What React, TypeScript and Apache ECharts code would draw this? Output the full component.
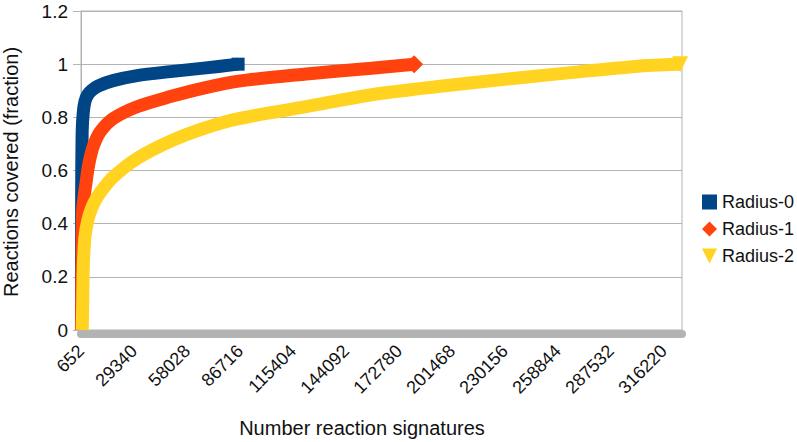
import React, { useEffect, useRef } from "react";
import * as echarts from "echarts";

const FONT = "'Liberation Sans', Arial, sans-serif";

const seriesNames = ["Radius-0", "Radius-1", "Radius-2"];
const seriesColors = ["#004586", "#ff420e", "#ffd320"];

const xTicks = [652, 29340, 58028, 86716, 115404, 144092, 172780, 201468, 230156, 258844, 287532, 316220];
const yTicks = [0, 0.2, 0.4, 0.6, 0.8, 1, 1.2];

const radius0X = [900, 1000, 1300, 1900, 2800, 4300, 6500, 10000, 18000, 31000, 49000, 67000, 85700];
const radius0Y = [0, 0.5, 0.75, 0.82, 0.86, 0.885, 0.902, 0.918, 0.938, 0.957, 0.972, 0.985, 1.0];

const radius1X = [900, 1100, 1500, 2300, 3300, 4300, 5500, 7500, 11000, 18000, 31000, 49000, 67000, 86000, 122500, 158000, 181000];
const radius1Y = [0, 0.2, 0.44, 0.5, 0.55, 0.6, 0.645, 0.695, 0.745, 0.795, 0.84, 0.878, 0.91, 0.936, 0.963, 0.985, 1.0];

const radius2X = [1300, 1500, 1900, 2800, 4400, 6500, 9000, 12500, 18000, 31000, 49000, 67000, 86000, 122500, 158000, 194000, 235700, 271300, 307400, 325000];
const radius2Y = [0, 0.07, 0.24, 0.35, 0.415, 0.46, 0.495, 0.53, 0.575, 0.645, 0.71, 0.758, 0.795, 0.84, 0.885, 0.916, 0.947, 0.972, 0.995, 1.0];

const TRI = "path://M0,0L10,0L5,10Z";

function build(xs: number[], ys: number[], endSymbol: string, endSize: number) {
  return xs.map((x, i) =>
    i === xs.length - 1
      ? { value: [x, ys[i]], symbol: endSymbol, symbolSize: endSize }
      : { value: [x, ys[i]] }
  );
}

export default function App() {
  const ref = useRef<HTMLDivElement>(null);
  useEffect(() => {
    document.body.style.margin = "0";
    if (!ref.current) return;
    const chart = echarts.init(ref.current, undefined, { renderer: "svg" });
    const lineCommon = {
      type: "line",
      showSymbol: true,
      symbol: "none",
      smooth: 0.3,
      lineStyle: { width: 13, cap: "butt", join: "round" },
    };
    chart.setOption({
      animation: false,
      grid: {
        left: 81,
        right: 115,
        top: 11,
        bottom: 112,
        show: true,
        borderColor: "#b3b3b3",
        borderWidth: 1,
      },
      xAxis: {
        type: "value",
        min: 652,
        max: 326000,
        offset: 4,
        axisLine: { show: true, onZero: false, lineStyle: { color: "#b3b3b3", width: 8 } },
        axisTick: { show: false },
        splitLine: { show: false },
        axisLabel: {
          customValues: xTicks,
          rotate: 45,
          margin: 14,
          fontSize: 18,
          color: "#111",
          fontFamily: FONT,
          formatter: (v: number) => String(v),
        },
      },
      yAxis: {
        type: "value",
        min: 0,
        max: 1.2,
        interval: 0.2,
        axisLine: { show: true, lineStyle: { color: "#b3b3b3" } },
        axisTick: { show: true, length: 8, lineStyle: { color: "#b3b3b3" } },
        splitLine: { show: true, lineStyle: { color: "#b3b3b3" } },
        axisLabel: {
          customValues: yTicks,
          margin: 13,
          fontSize: 19,
          color: "#111",
          fontFamily: FONT,
          formatter: (v: number) => String(Math.round(v * 10) / 10),
        },
      },
      legend: {
        orient: "vertical",
        left: 697,
        top: 188,
        padding: 5,
        itemWidth: 15,
        itemHeight: 15,
        itemGap: 9,
        textStyle: { fontSize: 18, color: "#111", fontFamily: FONT },
        data: [
          { name: seriesNames[0], icon: "rect" },
          { name: seriesNames[1], icon: "diamond" },
          { name: seriesNames[2], icon: TRI },
        ],
      },
      graphic: [
        {
          type: "text",
          x: 11,
          y: 172,
          rotation: Math.PI / 2,
          style: {
            text: "Reactions covered (fraction)",
            fontSize: 20,
            fontFamily: FONT,
            fill: "#111",
            align: "center",
            verticalAlign: "middle",
          },
        },
        {
          type: "text",
          x: 362,
          y: 428,
          style: {
            text: "Number reaction signatures",
            fontSize: 20,
            fontFamily: FONT,
            fill: "#111",
            align: "center",
            verticalAlign: "middle",
          },
        },
      ],
      series: [
        {
          ...lineCommon,
          name: seriesNames[0],
          color: seriesColors[0],
          data: build(radius0X, radius0Y, "rect", 13),
        },
        {
          ...lineCommon,
          name: seriesNames[1],
          color: seriesColors[1],
          data: build(radius1X, radius1Y, "diamond", 18),
        },
        {
          ...lineCommon,
          name: seriesNames[2],
          color: seriesColors[2],
          data: build(radius2X, radius2Y, TRI, 16),
        },
      ],
    });
    return () => chart.dispose();
  }, []);
  return <div ref={ref} style={{ width: 797, height: 442 }} />;
}
